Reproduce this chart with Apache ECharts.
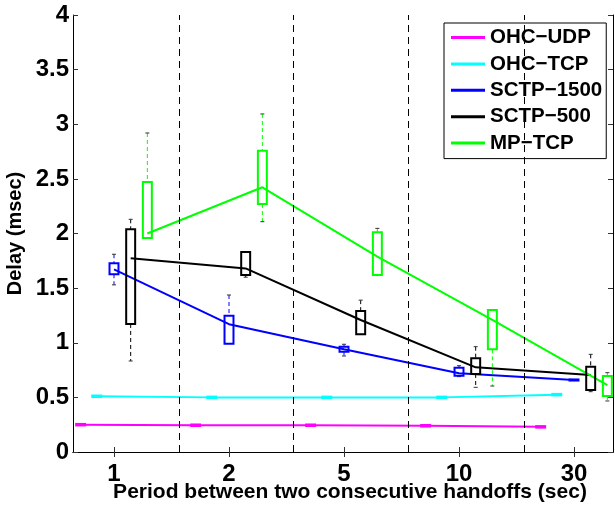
<!DOCTYPE html>
<html>
<head>
<meta charset="utf-8">
<script src="https://cdn.jsdelivr.net/npm/echarts@6/dist/echarts.min.js"></script>
<style>
  html, body { margin: 0; padding: 0; background: #fff; }
  #chart { width: 615px; height: 506px; }
</style>
</head>
<body>
<div id="chart"></div>
<script>
// x categories (handoff period, sec)
const categories = ['1', '2', '5', '10', '30']
const seriesNames = ['OHC−UDP', 'OHC−TCP', 'SCTP−1500', 'SCTP−500', 'MP−TCP']
const seriesColors = ['#ff00ff', '#00ffff', '#0000ff', '#000000', '#00ff00']
// box position inside each category group
const offsets = [-0.29, -0.15, 0, 0.145, 0.29]
// dashed separators between groups
const separators = [1.574, 2.565, 3.565, 4.574]

// each box: [low whisker, q1, median, q3, high whisker]  (msec)
const ohcUdpBoxes = [
  [0.24, 0.243, 0.25, 0.257, 0.26],
  [0.235, 0.238, 0.245, 0.252, 0.255],
  [0.235, 0.238, 0.245, 0.252, 0.255],
  [0.23, 0.233, 0.24, 0.247, 0.25],
  [0.22, 0.223, 0.23, 0.237, 0.24]
]
const ohcTcpBoxes = [
  [0.5, 0.503, 0.51, 0.517, 0.52],
  [0.49, 0.493, 0.5, 0.507, 0.51],
  [0.49, 0.493, 0.5, 0.507, 0.51],
  [0.49, 0.493, 0.5, 0.507, 0.51],
  [0.515, 0.518, 0.525, 0.532, 0.535]
]
const sctp1500Boxes = [
  [1.53, 1.627, 1.672, 1.728, 1.81],
  [0.99, 0.99, 1.17, 1.248, 1.437],
  [0.879, 0.918, 0.94, 0.964, 0.986],
  [0.69, 0.698, 0.72, 0.772, 0.79],
  [0.65, 0.654, 0.659, 0.664, 0.668]
]
const sctp500Boxes = [
  [0.833, 1.172, 1.773, 2.038, 2.13],
  [1.6, 1.62, 1.68, 1.83, 1.83],
  [1.077, 1.077, 1.208, 1.29, 1.39],
  [0.592, 0.714, 0.775, 0.857, 0.964],
  [0.552, 0.567, 0.705, 0.781, 0.894]
]
const mpTcpBoxes = [
  [1.959, 1.959, 2.0, 2.471, 2.92],
  [2.108, 2.27, 2.423, 2.758, 3.094],
  [1.62, 1.62, 1.788, 2.011, 2.047],
  [0.604, 0.94, 1.21, 1.3, 1.3],
  [0.467, 0.513, 0.613, 0.696, 0.726]
]
const allBoxes = [ohcUdpBoxes, ohcTcpBoxes, sctp1500Boxes, sctp500Boxes, mpTcpBoxes]

const X_MIN = 0.6435
const X_MAX = 5.339
const catValues = categories.map((c, i) => i + 1)

let chart = echarts.init(document.getElementById('chart'), null, {renderer: 'canvas'})

function renderBox (params, api) {
  const color = seriesColors[params.seriesIndex - seriesNames.length]
  const x = api.value(0)
  const low = api.coord([x, api.value(1)])
  const q1 = api.coord([x, api.value(2)])
  const q3 = api.coord([x, api.value(4)])
  const high = api.coord([x, api.value(5)])
  const hw = api.size([0.078, 0])[0] / 2
  const cw = 2
  const children = []
  if (high[1] < q3[1] - 0.5) {
    children.push({type: 'line', shape: {x1: high[0], y1: high[1], x2: q3[0], y2: q3[1]}, style: {stroke: color, lineWidth: 1, lineDash: [4, 3]}})
    children.push({type: 'line', shape: {x1: high[0] - cw, y1: high[1], x2: high[0] + cw, y2: high[1]}, style: {stroke: '#333', lineWidth: 1}})
  }
  if (low[1] > q1[1] + 0.5) {
    children.push({type: 'line', shape: {x1: q1[0], y1: q1[1], x2: low[0], y2: low[1]}, style: {stroke: color, lineWidth: 1, lineDash: [4, 3]}})
    children.push({type: 'line', shape: {x1: low[0] - cw, y1: low[1], x2: low[0] + cw, y2: low[1]}, style: {stroke: '#333', lineWidth: 1}})
  }
  children.push({
    type: 'rect',
    shape: {x: q3[0] - hw, y: q3[1], width: hw * 2, height: Math.max(q1[1] - q3[1], 1)},
    style: {stroke: color, fill: 'none', lineWidth: 2}
  })
  return {type: 'group', children: children}
}

const lineSeries = seriesNames.map((name, i) => ({
  name: name,
  type: 'line',
  data: allBoxes[i].map((b, k) => [k + 1 + offsets[i], b[2]]),
  showSymbol: false,
  symbol: 'none',
  z: 3,
  lineStyle: {color: seriesColors[i], width: 2},
  itemStyle: {color: seriesColors[i]},
  animation: false
}))
lineSeries[0].markLine = {
  silent: true,
  symbol: 'none',
  label: {show: false},
  lineStyle: {color: '#000', width: 1, type: [7, 5]},
  data: separators.map(v => ({xAxis: v})),
  animation: false
}

const boxSeries = seriesNames.map((name, i) => ({
  name: name + ' box',
  type: 'custom',
  renderItem: renderBox,
  encode: {x: 0, y: [1, 2, 3, 4, 5]},
  data: allBoxes[i].map((b, k) => [k + 1 + offsets[i]].concat(b)),
  z: 4,
  animation: false
}))

const axisFont = {fontFamily: 'Liberation Sans', fontWeight: 'bold', color: '#000'}

const option = {
  animation: false,
  grid: {left: 73, right: 2, top: 15, bottom: 54, containLabel: false, outerBoundsMode: 'none'},
  legend: {
    data: seriesNames,
    orient: 'vertical',
    left: 444,
    top: 23,
    padding: [4, 4, 5, 7],
    itemGap: 5.4,
    itemWidth: 34,
    itemHeight: 3,
    icon: 'rect',
    backgroundColor: '#fff',
    borderColor: '#000',
    borderWidth: 1,
    textStyle: Object.assign({fontSize: 20.5, lineHeight: 20, padding: [0, 0, 0, 0]}, axisFont)
  },
  xAxis: [
    {
      type: 'value',
      min: X_MIN,
      max: X_MAX,
      position: 'bottom',
      name: 'Period between two consecutive handoffs (sec)',
      nameLocation: 'middle',
      nameGap: 30,
      nameMoveOverlap: false,
      nameTextStyle: Object.assign({fontSize: 21, padding: [0, 0, 0, 14]}, axisFont),
      axisLine: {lineStyle: {color: '#000', width: 1}},
      axisTick: {inside: true, length: 5, customValues: catValues, lineStyle: {color: '#333'}},
      axisLabel: Object.assign({
        fontSize: 24,
        margin: 10,
        customValues: catValues,
        formatter: v => categories[Math.round(v) - 1]
      }, axisFont),
      splitLine: {show: false}
    },
    {
      type: 'value',
      min: X_MIN,
      max: X_MAX,
      position: 'top',
      axisLine: {lineStyle: {color: '#000', width: 1}},
      axisTick: {inside: true, length: 5, customValues: catValues, lineStyle: {color: '#333'}},
      axisLabel: {show: false},
      splitLine: {show: false}
    }
  ],
  yAxis: [
    {
      type: 'value',
      min: 0,
      max: 4,
      interval: 0.5,
      position: 'left',
      name: 'Delay (msec)',
      nameLocation: 'middle',
      nameGap: 48,
      nameMoveOverlap: false,
      nameTextStyle: Object.assign({fontSize: 20}, axisFont),
      axisLine: {show: true, lineStyle: {color: '#000', width: 1}},
      axisTick: {show: true, inside: true, length: 5, lineStyle: {color: '#333'}},
      axisLabel: Object.assign({fontSize: 24, margin: 4}, axisFont),
      splitLine: {show: false}
    },
    {
      type: 'value',
      min: 0,
      max: 4,
      interval: 0.5,
      position: 'right',
      axisLine: {show: true, lineStyle: {color: '#000', width: 1}},
      axisTick: {show: true, inside: true, length: 5, lineStyle: {color: '#333'}},
      axisLabel: {show: false},
      splitLine: {show: false}
    }
  ],
  series: lineSeries.concat(boxSeries)
}

chart.setOption(option)
</script>
</body>
</html>
